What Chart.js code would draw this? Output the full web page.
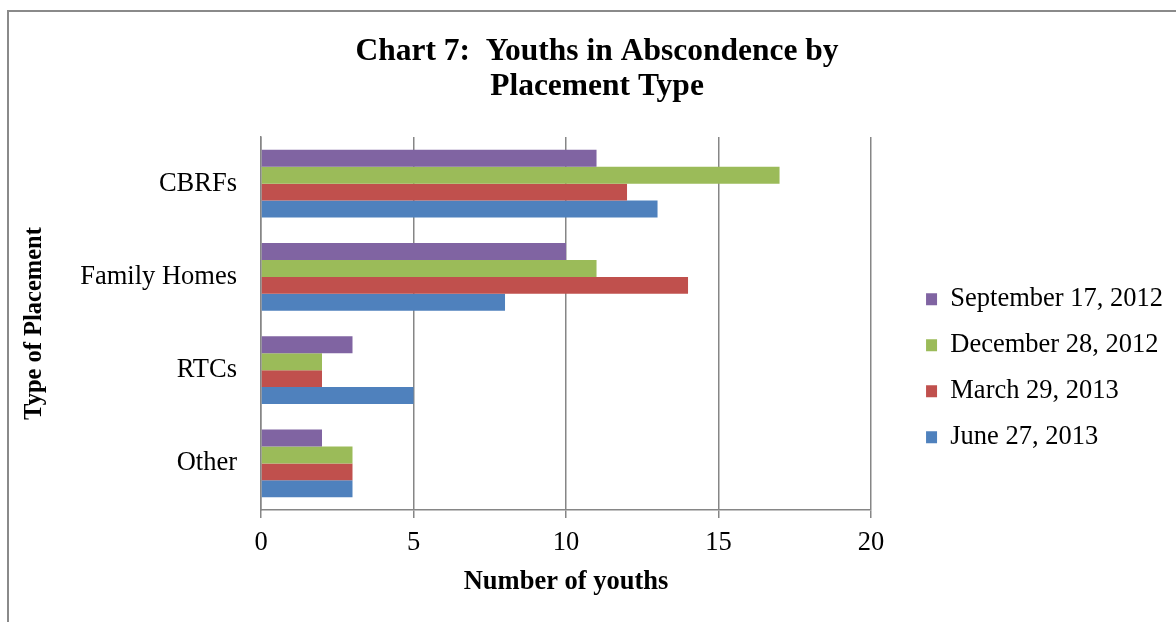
<!DOCTYPE html>
<html>
<head>
<meta charset="utf-8">
<script src="https://cdn.jsdelivr.net/npm/chart.js@4/dist/chart.umd.min.js"></script>
<style>
  html, body { margin: 0; padding: 0; background: #fff; overflow: hidden; }
  #frame { position: absolute; left: 7px; top: 10px; width: 1300px; height: 800px;
           border-left: 2px solid #8a8a8a; border-top: 2px solid #8a8a8a; }
  #wrap { position: absolute; left: 0; top: 0; width: 1176px; height: 622px; }
</style>
</head>
<body>
<div id="frame"></div>
<div id="wrap"><canvas id="chart" width="1176" height="622"></canvas></div>
<script>
// Placement categories (top to bottom)
const placementTypes = ['CBRFs', 'Family Homes', 'RTCs', 'Other'];

// Youths in abscondence on each count date
const sep17_2012 = [11, 10, 3, 2];
const dec28_2012 = [17, 11, 2, 3];
const mar29_2013 = [12, 14, 2, 3];
const jun27_2013 = [13, 8, 5, 3];

const seriesNames = ['September 17, 2012', 'December 28, 2012', 'March 29, 2013', 'June 27, 2013'];
const seriesColors = ['#8064A2', '#9BBB59', '#C0504D', '#4F81BD'];

// Value axis tick labels
const xTicks = [0, 5, 10, 15, 20];

const serif = "'Liberation Serif', 'Times New Roman', serif";
const gridColor = '#868686';
const labelSize = 26.5;

const seriesValues = [sep17_2012, dec28_2012, mar29_2013, jun27_2013];

new Chart(document.getElementById('chart'), {
  type: 'bar',
  data: {
    labels: placementTypes,
    datasets: seriesValues.map((vals, i) => ({
      label: seriesNames[i],
      data: vals,
      backgroundColor: seriesColors[i],
      borderWidth: 0,
      yAxisID: 'y'
    }))
  },
  options: {
    indexAxis: 'y',
    responsive: false,
    animation: false,
    devicePixelRatio: 1,
    layout: { padding: { left: 21, right: 3, top: 10, bottom: 0 } },
    datasets: { bar: { categoryPercentage: 0.729, barPercentage: 1 } },
    plugins: {
      title: {
        display: true,
        text: ['Chart 7:  Youths in Abscondence by', 'Placement Type'],
        color: '#000',
        font: { family: serif, size: 31.5, weight: 'bold', lineHeight: 35 / 31.5 },
        padding: { top: 24, bottom: 33 }
      },
      legend: {
        position: 'right',
        maxWidth: 320,
        labels: {
          boxWidth: 11, boxHeight: 12, padding: 19.5, color: '#000',
          font: { family: serif, size: labelSize }
        },
        title: { display: true, text: '', font: { size: 1, lineHeight: 1 }, padding: { top: 103.5, bottom: 0 } }
      },
      tooltip: { enabled: false }
    },
    scales: {
      y: {
        type: 'category',
        position: 'left',
        grid: { display: false },
        border: { display: true, color: gridColor, width: 1.5 },
        ticks: { padding: 16, color: '#000', font: { family: serif, size: labelSize } },
        title: {
          display: true, text: 'Type of Placement', color: '#000',
          font: { family: serif, size: 24.5, weight: 'bold', lineHeight: 1.14 }, padding: 0
        },
        afterFit(s) { s.width = 240; }
      },
      gap: {
        axis: 'y', type: 'linear', position: 'right', display: true,
        grid: { display: false }, border: { display: false }, ticks: { display: false },
        afterFit(s) { s.width = 35.5; }
      },
      x: {
        type: 'linear', position: 'bottom', min: 0, max: 20,
        afterBuildTicks(s) { s.ticks = xTicks.map(v => ({ value: v })); },
        ticks: { padding: 9, color: '#000', font: { family: serif, size: labelSize } },
        grid: { color: gridColor, lineWidth: 1.5, tickLength: 8, drawTicks: true },
        border: { color: gridColor, width: 1.5 },
        title: {
          display: true, text: 'Number of youths', color: '#000',
          font: { family: serif, size: 26.5, weight: 'bold' }, padding: { top: 0, bottom: 24 }
        },
        afterFit(s) { s.height = 112; }
      }
    }
  }
});
</script>
</body>
</html>
